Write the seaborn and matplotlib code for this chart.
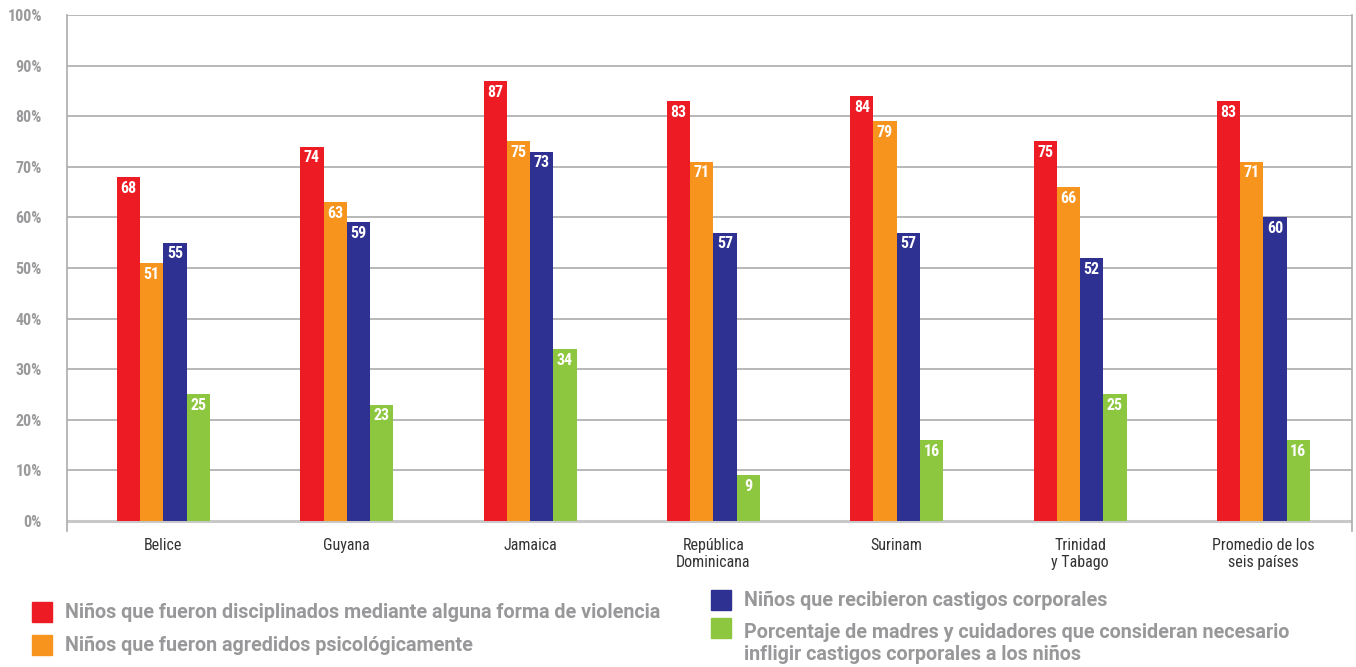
import pandas as pd
import seaborn as sns
import matplotlib.pyplot as plt
from matplotlib.patches import Rectangle

countries = ["Belice", "Guyana", "Jamaica", "República\nDominicana", "Surinam",
             "Trinidad\ny Tabago", "Promedio de los\nseis países"]
violencia = [68, 74, 87, 83, 84, 75, 83]
psicologica = [51, 63, 75, 71, 79, 66, 71]
corporal = [55, 59, 73, 57, 57, 52, 60]
madres = [25, 23, 34, 9, 16, 25, 16]

series = ["Niños que fueron disciplinados mediante alguna forma de violencia",
          "Niños que fueron agredidos psicológicamente",
          "Niños que recibieron castigos corporales",
          "Porcentaje de madres y cuidadores que consideran necesario\ninfligir castigos corporales a los niños"]
colors = ["#ED1C24", "#F7941D", "#2E3192", "#8DC63F"]

rows = []
for s, vals in zip(series, [violencia, psicologica, corporal, madres]):
    for c, v in zip(countries, vals):
        rows.append({"pais": c, "serie": s, "valor": v})
df = pd.DataFrame(rows)

sns.set_style("white")
plt.rcParams["font.family"] = ["Roboto Condensed", "Liberation Sans Narrow", "Roboto", "DejaVu Sans"]
plt.rcParams["font.stretch"] = "condensed"

fig = plt.figure(figsize=(13.56, 6.67), dpi=100)
ax = fig.add_axes([0.0494, 0.2039, 0.9476, 0.7736])

sns.barplot(data=df, x="pais", y="valor", hue="serie", palette=colors,
            width=0.507, gap=0, saturation=1, legend=False, linewidth=0,
            ax=ax, zorder=3)

for cont in ax.containers:
    ax.bar_label(cont, padding=-13.5, color="white", fontweight="bold", fontsize=11.5)

ax.set_xlim(-0.526, 6.483)
ax.set_ylim(-2, 100)
ax.set_yticks(range(0, 101, 10))
ax.set_yticklabels([f"{v}%" for v in range(0, 101, 10)], color="#9a9a9c",
                   fontweight="bold", fontsize=11.5)
ax.yaxis.grid(True, color="#ababab", linewidth=1.2, zorder=0)
ax.axhline(0, color="#c8c8c8", linewidth=2.2, zorder=2)
ax.tick_params(axis="y", length=10, width=1.2, color="#ababab", pad=8)
ax.tick_params(axis="x", length=0, pad=5, labelsize=11.5, labelcolor="#333333")
ax.set_xlabel("")
ax.set_ylabel("")
for side in ["top", "bottom"]:
    ax.spines[side].set_visible(False)
for side in ["left", "right"]:
    ax.spines[side].set_color("#ababab")
    ax.spines[side].set_linewidth(1.2)

# legend, drawn by hand in two columns
W, H = 1356, 667
legend_items = [(32, 612, 0), (32, 645, 1), (711, 600, 2), (711, 628, 3)]
for x, y, i in legend_items:
    fig.add_artist(Rectangle((x / W, 1 - (y + 10) / H), 20 / W, 20 / H,
                             transform=fig.transFigure, color=colors[i]))
    fig.text((x + 33) / W, 1 - y / H if i < 3 else 1 - (y - 5) / H, series[i],
             color="#98989a", fontsize=14.2, fontweight="bold",
             family=["Roboto", "DejaVu Sans"], fontstretch="normal",
             va="center" if i < 3 else "top", ha="left", linespacing=1.2)

fig.savefig("out.png", dpi=100)
